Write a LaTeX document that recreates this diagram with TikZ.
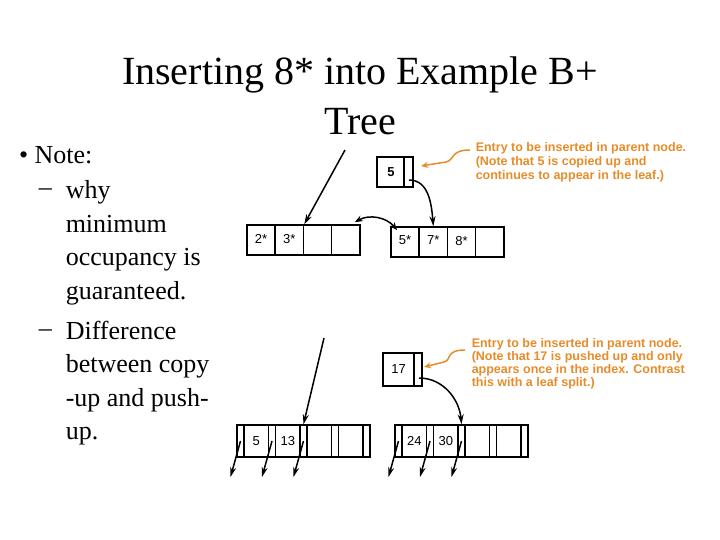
\documentclass[tikz,border=0pt]{standalone}
\usepackage{fontspec}
\setmainfont{Liberation Serif}
\setsansfont{Liberation Sans}
\usetikzlibrary{arrows.meta,decorations.pathmorphing}
\definecolor{NoteOrange}{RGB}{230,140,40}

\begin{document}
\begin{tikzpicture}[x=1pt,y=-1pt,line width=1.5pt,
    cell/.style={draw,line width=1.5pt,minimum width=28.25pt,minimum height=30pt,inner sep=0pt,font=\sffamily\fontsize{13}{13}\selectfont},
    key/.style={draw,line width=1.5pt,minimum width=24.5pt,minimum height=32pt,inner sep=0pt,font=\sffamily\fontsize{13}{13}\selectfont},
    slot/.style={draw,line width=1.5pt,minimum width=7pt,minimum height=32pt,inner sep=0pt},
    ptr/.style={-{Stealth[length=10pt,width=6pt]},line width=1.5pt},
    note/.style={NoteOrange,font=\sffamily\bfseries\fontsize{12.5}{14}\selectfont,align=left,anchor=north west,inner sep=0pt},
    squiggle/.style={NoteOrange,line width=1.5pt,-{Stealth[length=7pt,width=6pt]}}]
    \useasboundingbox (0,0) rectangle (720,540);

    % title and bullets
    \node[font=\fontsize{40}{50}\selectfont,align=center] (title) at (360,96) {Inserting 8* into Example B+\\Tree};
    \begin{scope}[font=\fontsize{26}{33.6}\selectfont]
        \node[anchor=west] (b1) at (15,155) {\textbullet\ Note:};
        \node[anchor=base west,inner sep=0pt] (b2) at (38,196) {\textendash};
        \node[anchor=north west,align=left,inner sep=0pt] (t2) at (65,180) {why\\minimum\\occupancy is\\guaranteed.};
        \node[anchor=base west,inner sep=0pt] (b3) at (38,336) {\textendash};
        \node[anchor=north west,align=left,inner sep=0pt] (t3) at (65,320) {Difference\\between copy\\-up and push-\\up.};
    \end{scope}

    % leaf split (copy up)
    \foreach \i/\t in {0/2*,1/3*,2/{},3/{}}
        \node[cell] (la\i) at ({261.1+28.25*\i},240) {\raisebox{3pt}{\t}};
    \foreach \i/\t in {0/5*,1/7*,2/8*,3/{}}
        \node[cell] (lb\i) at ({405.1+28.25*\i},242) {\raisebox{3pt}{\t}};
    \node[cell,minimum width=36pt,font=\sffamily\bfseries\fontsize{13}{13}\selectfont] (up5) at (395,172) {\hspace*{-8pt}5};
    \draw (404,157) -- (404,187);
    \coordinate (in5) at (345,150);
    \draw[ptr] (in5) -- (la1.north east);
    \draw[ptr] (up5.center) ++(14,8) coordinate (p5) to[out=0,in=95] (lb1.north);
    \draw[{Stealth[length=8pt,width=6pt]}-{Stealth[length=8pt,width=6pt]}] (la3.north east) ++(-6,-2) to[bend left=40] ([xshift=-8pt,yshift=-4pt]lb0.north);
    \node[note] (n1) at (475,142) {Entry to be inserted in parent node.\\(Note that 5 is copied up and\\continues to appear in the leaf.)};
    \coordinate (s1) at (470,150);
    \draw[squiggle] (s1) .. controls (450,150) and (455,160) .. (446,162) -- (421,166);

    % index split (push up)
    \node[cell,minimum width=39pt,minimum height=33pt] (up17) at (402.5,369.5) {\hspace*{-8pt}17};
    \draw (414,353) -- (414,386);
    \foreach \L/\x in {lc/237,ld/395}{
        \foreach \j in {0,...,4}
            \node[slot] (\L s\j) at ({\x+3.5+31.5*\j},441) {};
    }
    \foreach \L/\x/\a/\b in {lc/237/5/13,ld/395/24/30}{
        \node[key] (\L k0) at ({\x+7+12.25},441) {\a};
        \node[key] (\L k1) at ({\x+38.5+12.25},441) {\b};
        \node[key] (\L k2) at ({\x+70+12.25},441) {};
        \node[key] (\L k3) at ({\x+101.5+12.25},441) {};
        \foreach \j in {0,1,2}
            \draw[ptr] (\L s\j.center) -- ++(-10,36);
    }
    \coordinate (in17) at (324,338);
    \draw[ptr] (in17) -- (lcs2.north);
    \draw[ptr] (419,378) to[out=0,in=95] (lds2.north);
    \node[note] (n2) at (471,338) {Entry to be inserted in parent node.\\[-1pt](Note that 17 is pushed up and only\\[-1pt]appears once in the index. Contrast\\[-1pt]this with a leaf split.)};
    \coordinate (s2) at (465,350);
    \draw[squiggle] (s2) .. controls (445,350) and (452,360) .. (444,362) -- (424,367);
\end{tikzpicture}
\end{document}
